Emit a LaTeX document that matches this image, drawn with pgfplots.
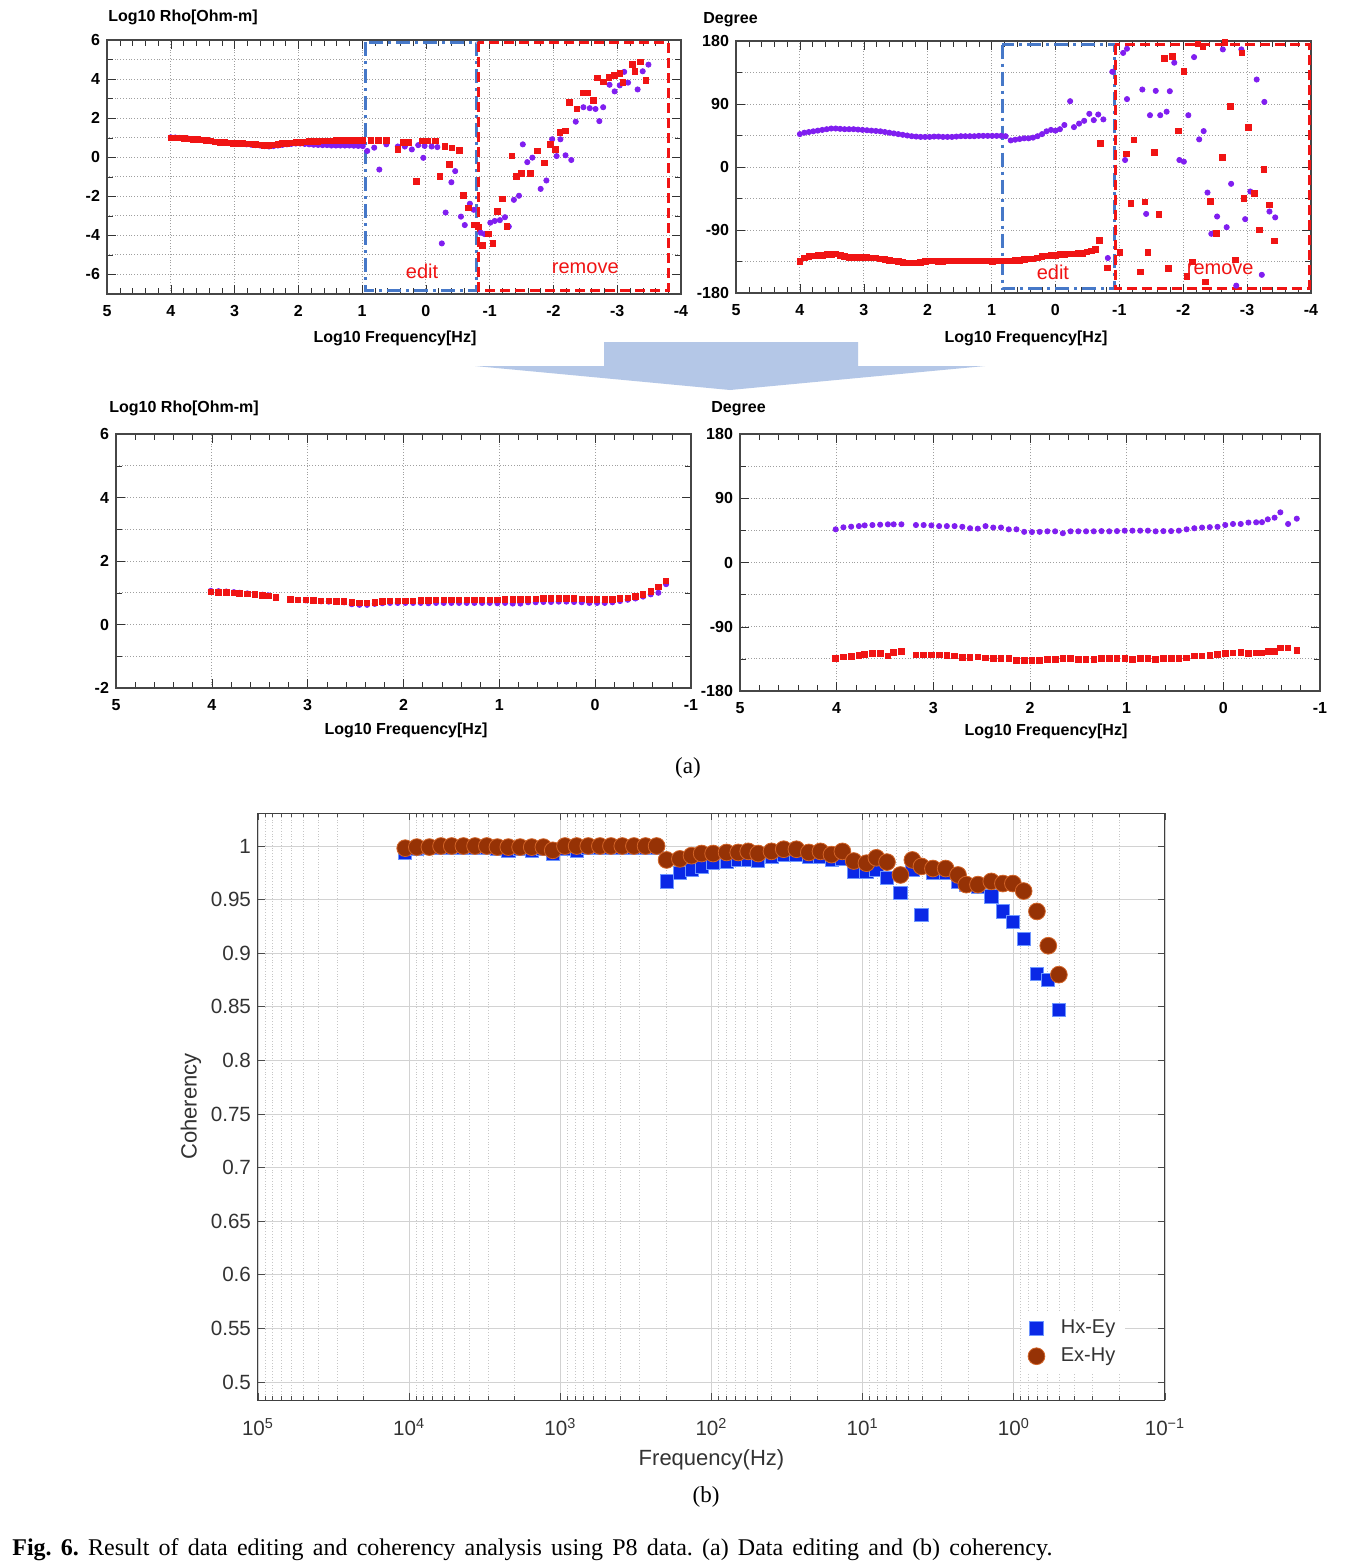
\documentclass[border=0pt]{standalone}
\usepackage{fontspec}
\setmainfont{Liberation Serif}
\setsansfont{Liberation Sans}
\usepackage{pgfplots}
\pgfplotsset{compat=1.18}
\definecolor{rr}{RGB}{240,20,20}
\definecolor{pp}{RGB}{128,30,240}
\definecolor{eb}{RGB}{70,120,200}
\definecolor{bb}{RGB}{10,40,230}
\definecolor{bbe}{RGB}{110,150,255}
\definecolor{br}{RGB}{150,50,5}
\definecolor{bre}{RGB}{210,100,40}
\definecolor{arrowc}{RGB}{180,199,231}
\newcommand{\lab}{\sffamily\bfseries\fontsize{8}{9}\selectfont}
\tikzset{
  boxb/.style={eb, line width=1.5pt, dash pattern=on 7pt off 2.5pt on 1.5pt off 2.5pt},
  boxr/.style={rr, line width=1.5pt, dash pattern=on 5pt off 2.5pt},
}
\pgfplotsset{
  apanel/.style={scale only axis, anchor=south west, x dir=reverse,
    axis line style={gray!55!black, line width=0.7pt},
    /pgf/number format/assume math mode=true,
    tick label style={font=\lab},
    xticklabel style={yshift=-2pt},
    xmajorgrids, ymajorgrids, yminorgrids,
    major grid style={densely dotted, gray!75, line width=0.45pt},
    minor grid style={densely dotted, gray!75, line width=0.45pt},
    tick style={gray!40!black}, minor x tick num=4},
  redm/.style={only marks, mark=square*, mark size=1.4pt, color=rr},
  purm/.style={only marks, mark=*, mark size=1.3pt, color=pp},
}
\begin{document}
\begin{tikzpicture}
\fill[white] (0,0) rectangle (679.5pt,-782.5pt);
\path[use as bounding box] (0,0) rectangle (679.5pt,-782.5pt);

% ---------- A1: top-left resistivity ----------
\begin{axis}[apanel, at={(53.5pt,-147pt)}, width=287pt, height=127pt,
  xmin=-4, xmax=5, ymin=-7, ymax=6,
  xtick={-4,-3,-2,-1,0,1,2,3,4,5},
  ytick={-6,-4,-2,0,2,4,6}, minor ytick={-5,-3,-1,1,3,5}]
\addplot[purm] coordinates {
(4.00,1.02)(3.93,1.01)(3.86,0.99)(3.79,0.97)(3.72,0.95)(3.65,0.93)(3.58,0.90)(3.51,0.88)(3.44,0.85)(3.37,0.82)
(3.30,0.78)(3.23,0.75)(3.16,0.74)(3.09,0.73)(3.02,0.71)(2.95,0.70)(2.88,0.68)(2.81,0.66)(2.74,0.64)(2.67,0.62)
(2.60,0.60)(2.53,0.57)(2.46,0.55)(2.39,0.57)(2.32,0.60)(2.25,0.63)(2.18,0.66)(2.11,0.68)(2.04,0.70)(1.97,0.70)
(1.90,0.68)(1.83,0.66)(1.76,0.64)(1.69,0.63)(1.62,0.62)(1.55,0.62)(1.48,0.60)(1.41,0.60)(1.34,0.60)(1.27,0.60)
(1.20,0.60)(1.13,0.59)(1.06,0.58)(0.99,0.57)
(0.92,0.32)(0.81,0.49)(0.73,-0.63)(0.62,0.66)(0.44,0.55)(0.33,0.55)(0.22,0.40)(0.12,0.62)(0.02,0.58)(-0.09,0.55)(-0.18,0.52)
(0.04,-0.03)(-0.40,-1.28)(-0.46,-0.71)(-0.31,-2.83)(-0.25,-4.41)(-0.55,-3.04)(-0.61,-3.47)(-0.69,-2.38)(-0.75,-2.69)
(-0.86,-3.86)(-0.92,-3.93)(-1.01,-3.35)(-1.08,-3.26)(-1.16,-3.22)(-1.24,-3.07)(-1.30,-3.55)(-1.38,-2.18)(-1.46,-1.97)
(-1.52,0.66)(-1.59,-0.25)(-1.67,-0.02)(-1.80,-1.62)(-1.89,-1.19)(-1.98,0.92)(-2.05,0.06)(-2.11,0.92)(-2.19,0.10)
(-2.28,-0.14)(-2.35,1.82)(-2.47,2.56)(-2.57,2.51)(-2.66,2.47)(-2.72,1.85)(-2.78,2.56)(-2.88,3.71)(-2.96,3.37)
(-3.04,3.68)(-3.11,4.37)(-3.17,3.82)(-3.32,3.47)(-3.40,4.40)(-3.49,4.74)};
\addplot[redm] coordinates {
(4.00,1.00)(3.93,1.00)(3.86,0.98)(3.79,0.96)(3.72,0.94)(3.65,0.92)(3.58,0.90)(3.51,0.88)(3.44,0.86)(3.37,0.84)
(3.30,0.78)(3.23,0.76)(3.16,0.75)(3.09,0.74)(3.02,0.72)(2.95,0.71)(2.88,0.70)(2.81,0.69)(2.74,0.68)(2.67,0.66)
(2.60,0.64)(2.53,0.62)(2.46,0.61)(2.39,0.63)(2.32,0.66)(2.25,0.70)(2.18,0.72)(2.11,0.74)(2.04,0.76)(1.97,0.77)
(1.90,0.78)(1.83,0.80)(1.76,0.82)(1.69,0.82)(1.62,0.83)(1.55,0.84)(1.48,0.84)(1.41,0.85)(1.34,0.85)(1.27,0.86)
(1.20,0.86)(1.13,0.86)(1.06,0.87)(0.99,0.87)
(0.86,0.87)(0.74,0.87)(0.62,0.87)(0.44,0.41)(0.35,0.75)(0.27,0.75)(0.15,-1.23)(0.06,0.84)(-0.03,0.84)(-0.15,0.84)
(-0.30,0.54)(-0.41,0.47)(-0.53,0.34)(-0.37,-0.37)(-0.22,-0.97)(-0.59,-1.95)(-0.67,-2.60)(-0.75,-3.47)
(-0.82,-3.56)(-0.89,-4.50)(-0.98,-3.93)(-1.05,-4.41)(-1.12,-2.76)(-1.20,-2.14)(-1.27,-3.55)(-1.35,0.06)(-1.42,-0.97)
(-1.50,-0.83)(-1.64,-0.83)(-1.75,0.32)(-1.86,-0.28)(-1.95,0.67)(-2.03,0.41)(-2.10,1.27)(-2.19,1.34)(-2.25,2.81)
(-2.37,2.47)(-2.46,3.30)(-2.54,3.30)(-2.63,2.90)(-2.69,4.06)(-2.78,3.85)(-2.87,4.10)(-2.96,4.19)(-3.04,4.28)
(-3.09,3.82)(-3.24,4.74)(-3.36,4.88)(-3.45,3.94)(-3.28,4.40)};
\draw[boxb] (axis cs:0.95,5.88) rectangle (axis cs:-0.80,-6.82);
\draw[boxr] (axis cs:-0.82,5.88) rectangle (axis cs:-3.80,-6.80);
\node[text=rr, font=\sffamily\fontsize{10}{11}\selectfont] at (axis cs:0.06,-5.85) {edit};
\node[text=rr, font=\sffamily\fontsize{10}{11}\selectfont] at (axis cs:-2.5,-5.7) {remove};
\end{axis}

% ---------- A2: top-right phase ----------
\begin{axis}[apanel, at={(368pt,-146.5pt)}, width=287.5pt, height=126pt,
  xmin=-4, xmax=5, ymin=-180, ymax=180,
  xtick={-4,-3,-2,-1,0,1,2,3,4,5},
  ytick={-180,-90,0,90,180}, minor ytick={-135,-45,45,135}]
\addplot[purm] coordinates {
(4.00,47)(3.93,49)(3.86,50)(3.79,51)(3.72,52)(3.65,53)(3.58,54)(3.51,55)(3.44,55)(3.37,54.5)
(3.30,54)(3.23,54)(3.16,54)(3.09,53.5)(3.02,53)(2.95,52.5)(2.88,52)(2.81,51.5)(2.74,51)(2.67,50)
(2.60,49)(2.53,48)(2.46,47)(2.39,46)(2.32,45)(2.25,44)(2.18,43.5)(2.11,43)(2.04,43)(1.97,43)
(1.90,43.5)(1.83,43.5)(1.76,43)(1.69,43)(1.62,43)(1.55,43.5)(1.48,44)(1.41,44)(1.34,44)(1.27,44)
(1.20,44.5)(1.13,44.5)(1.06,44.5)(0.99,44.5)(0.92,44.5)(0.85,44.5)(0.78,44)
(0.70,38)(0.63,39)(0.56,40)(0.49,41)(0.42,41)(0.35,42)(0.28,44)(0.21,47)(0.14,51)(0.07,53)(0.00,52)
(-0.07,54)(-0.14,60)(-0.23,94)(-0.29,57)(-0.37,62)(-0.45,66)(-0.53,76)(-0.60,67)(-0.67,75)(-0.75,68)
(-0.82,-130)(-0.89,136)
(-1.06,163)(-1.12,169)(-1.09,10)(-1.12,97)(-1.36,110.7)(-1.42,-67)(-1.48,74)(-1.57,108.8)(-1.64,74)
(-1.74,79)(-1.79,108.3)(-1.86,149)(-1.94,10)(-2.01,7.6)(-2.08,74)(-2.17,157)(-2.25,39.5)(-2.32,51.3)
(-2.38,-36.5)(-2.44,-95.4)(-2.53,-70.7)(-2.62,168)(-2.68,-86)(-2.75,-24)(-2.83,-169.5)(-2.91,168)
(-2.97,-74.5)(-3.05,-35)(-3.15,125)(-3.23,-154)(-3.27,93)(-3.35,-63.6)(-3.44,-72)};
\addplot[redm] coordinates {
(4.00,-135)(3.93,-130)(3.86,-128)(3.79,-127)(3.72,-126)(3.65,-126)(3.58,-125)(3.51,-125)(3.44,-124)(3.37,-126)
(3.30,-128)(3.23,-129)(3.16,-129)(3.09,-129)(3.02,-129)(2.95,-129)(2.88,-130)(2.81,-130)(2.74,-131)(2.67,-132)
(2.60,-133)(2.53,-134)(2.46,-135)(2.39,-136)(2.32,-137)(2.25,-137)(2.18,-137)(2.11,-136)(2.04,-135)(1.97,-134)
(1.90,-134)(1.83,-135)(1.76,-135)(1.69,-134)(1.62,-134)(1.55,-134)(1.48,-134)(1.41,-134)(1.34,-134)(1.27,-134)
(1.20,-134)(1.13,-134)(1.06,-134)(0.99,-135)(0.92,-134)(0.85,-134)(0.78,-134)(0.70,-134)(0.63,-133)(0.56,-133)
(0.49,-132)(0.42,-131)(0.35,-131)(0.28,-130)(0.21,-128)(0.14,-127)(0.07,-126)(0.00,-126)(-0.07,-125)(-0.14,-125)
(-0.21,-124)(-0.28,-124)(-0.35,-123)(-0.42,-123)(-0.49,-121)(-0.56,-120)(-0.63,-118)(-0.69,-105)(-0.81,-144)(-0.70,34)
(-1.01,-122)(-1.11,18.5)(-1.23,38.5)(-1.18,-51.7)(-1.40,-50)(-1.45,-122)(-1.33,-150)(-1.55,21)(-1.62,-67.4)
(-1.71,154.8)(-1.83,158)(-1.77,-145)(-1.92,51.8)(-2.01,137)(-2.06,-156)(-2.14,-135.8)(-2.23,176)(-2.31,171.5)
(-2.35,-164)(-2.43,-49)(-2.52,-95)(-2.61,13.8)(-2.65,178)(-2.74,87)(-2.82,-132.5)(-2.92,163)(-2.95,-44.6)
(-3.02,56.5)(-3.11,-37.5)(-3.19,-89.7)(-3.26,-3.3)(-3.35,-54)(-3.43,-105.4)};
\draw[boxb] (axis cs:0.83,175) rectangle (axis cs:-0.93,-174);
\draw[boxr] (axis cs:-0.94,175) rectangle (axis cs:-3.97,-173);
\node[text=rr, font=\sffamily\fontsize{10}{11}\selectfont] at (axis cs:0.04,-150) {edit};
\node[text=rr, font=\sffamily\fontsize{10}{11}\selectfont] at (axis cs:-2.58,-146) {remove};
\end{axis}

% ---------- A3: bottom-left resistivity ----------
\begin{axis}[apanel, at={(58pt,-344pt)}, width=287.5pt, height=127pt,
  xmin=-1, xmax=5, ymin=-2, ymax=6,
  xtick={-1,0,1,2,3,4,5},
  ytick={-2,0,2,4,6}, minor ytick={-1,1,3,5}]
\addplot[purm] coordinates {
(4.01,1.06)(3.93,1.05)(3.85,1.04)(3.77,1.02)(3.71,1.00)(3.63,0.98)(3.55,0.96)(3.47,0.94)(3.41,0.92)(3.33,0.86)
(3.18,0.78)(3.10,0.77)(3.02,0.76)(2.94,0.75)(2.86,0.73)(2.78,0.72)(2.70,0.71)(2.62,0.70)(2.54,0.64)(2.46,0.62)
(2.38,0.62)(2.30,0.65)(2.22,0.67)(2.14,0.68)(2.06,0.68)(1.98,0.68)(1.90,0.68)(1.82,0.68)(1.74,0.67)(1.66,0.68)
(1.58,0.68)(1.50,0.68)(1.42,0.68)(1.34,0.68)(1.26,0.68)(1.18,0.68)(1.10,0.68)(1.02,0.67)(0.94,0.68)(0.86,0.66)
(0.78,0.66)(0.70,0.70)(0.62,0.70)(0.54,0.71)(0.46,0.71)(0.38,0.72)(0.30,0.72)(0.22,0.71)(0.14,0.70)(0.06,0.68)
(-0.02,0.68)(-0.10,0.68)(-0.18,0.70)(-0.26,0.74)(-0.34,0.78)(-0.42,0.82)(-0.50,0.88)(-0.58,0.95)(-0.66,1.00)(-0.74,1.27)};
\addplot[redm] coordinates {
(4.01,1.03)(3.93,1.02)(3.85,1.01)(3.77,1.00)(3.71,0.98)(3.63,0.96)(3.55,0.94)(3.47,0.92)(3.41,0.90)(3.33,0.85)
(3.18,0.79)(3.10,0.78)(3.02,0.77)(2.94,0.76)(2.86,0.75)(2.78,0.74)(2.70,0.73)(2.62,0.72)(2.54,0.70)(2.46,0.68)
(2.38,0.68)(2.30,0.70)(2.22,0.72)(2.14,0.74)(2.06,0.75)(1.98,0.75)(1.90,0.75)(1.82,0.76)(1.74,0.76)(1.66,0.77)
(1.58,0.77)(1.50,0.77)(1.42,0.78)(1.34,0.78)(1.26,0.78)(1.18,0.78)(1.10,0.78)(1.02,0.78)(0.94,0.79)(0.86,0.79)
(0.78,0.79)(0.70,0.80)(0.62,0.81)(0.54,0.82)(0.46,0.82)(0.38,0.83)(0.30,0.83)(0.22,0.82)(0.14,0.81)(0.06,0.80)
(-0.02,0.80)(-0.10,0.80)(-0.18,0.80)(-0.26,0.82)(-0.34,0.84)(-0.42,0.88)(-0.50,0.95)(-0.58,1.05)(-0.66,1.18)(-0.74,1.38)};
\end{axis}

% ---------- A4: bottom-right phase ----------
\begin{axis}[apanel, at={(370pt,-345.5pt)}, width=290pt, height=128.5pt,
  xmin=-1, xmax=5, ymin=-180, ymax=180,
  xtick={-1,0,1,2,3,4,5},
  ytick={-180,-90,0,90,180}, minor ytick={-135,-45,45,135}]
\addplot[purm] coordinates {
(4.01,46.5)(3.93,49.3)(3.85,50.2)(3.77,51)(3.71,52)(3.63,52.5)(3.55,53)(3.47,53.5)(3.41,53.5)(3.33,53.5)
(3.18,52.5)(3.10,52.5)(3.02,52)(2.94,51)(2.86,51)(2.78,51)(2.70,50)(2.62,48)(2.54,47.5)(2.46,51)
(2.38,49)(2.30,49)(2.22,46.5)(2.14,46.5)(2.06,43)(1.98,42.7)(1.90,43)(1.82,43.7)(1.74,43.7)(1.66,41)
(1.58,43.7)(1.50,43.7)(1.42,43.7)(1.34,43.7)(1.26,44)(1.18,43.7)(1.10,44)(1.02,44.6)(0.94,44.6)(0.86,44.6)
(0.78,44.6)(0.70,43.7)(0.62,44)(0.54,44)(0.46,44.6)(0.38,46.5)(0.30,48)(0.22,49)(0.14,49.5)(0.06,50)
(-0.02,52.5)(-0.10,54)(-0.18,54)(-0.26,56)(-0.34,56.3)(-0.40,56.5)(-0.46,60.5)(-0.53,62.8)(-0.59,70.3)(-0.67,54)(-0.76,61.4)};
\addplot[redm] coordinates {
(4.01,-134.7)(3.93,-132.3)(3.85,-131.4)(3.77,-130)(3.71,-128.6)(3.63,-127.2)(3.55,-127.2)(3.47,-131)(3.41,-125.8)(3.33,-124.4)
(3.18,-129.5)(3.10,-129.5)(3.02,-129.5)(2.94,-129.5)(2.86,-130.5)(2.78,-131)(2.70,-132.8)(2.62,-133)(2.54,-132)(2.46,-133.5)
(2.38,-134.7)(2.30,-134.7)(2.22,-134.7)(2.14,-137)(2.06,-137)(1.98,-137)(1.90,-137)(1.82,-135.6)(1.74,-135.6)(1.66,-134)
(1.58,-134.7)(1.50,-135.6)(1.42,-135.6)(1.34,-135.6)(1.26,-134.7)(1.18,-134.7)(1.10,-134.7)(1.02,-134.7)(0.94,-135.6)(0.86,-134.7)
(0.78,-134.7)(0.70,-135.6)(0.62,-134.7)(0.54,-134.7)(0.46,-134.7)(0.38,-133.5)(0.30,-131)(0.22,-131)(0.14,-130)(0.06,-128.6)
(-0.02,-127.2)(-0.10,-126.5)(-0.18,-125.8)(-0.26,-127)(-0.34,-126.5)(-0.40,-126.5)(-0.46,-124.4)(-0.53,-124.4)(-0.59,-119.7)(-0.67,-119.7)(-0.76,-123)};
\end{axis}

% ---------- panel (a) texts ----------
\node[anchor=west, inner sep=0pt, font=\lab] at (54pt,-8.5pt) {Log10 Rho[Ohm-m]};
\node[anchor=west, inner sep=0pt, font=\lab] at (351.5pt,-10pt) {Degree};
\node[font=\lab] at (197.5pt,-169pt) {Log10 Frequency[Hz]};
\node[font=\lab] at (513pt,-169pt) {Log10 Frequency[Hz]};
\node[anchor=west, inner sep=0pt, font=\lab] at (54.5pt,-204pt) {Log10 Rho[Ohm-m]};
\node[anchor=west, inner sep=0pt, font=\lab] at (355.5pt,-204.5pt) {Degree};
\node[font=\lab] at (203pt,-365pt) {Log10 Frequency[Hz]};
\node[font=\lab] at (523pt,-365.5pt) {Log10 Frequency[Hz]};
\fill[arrowc] (302pt,-171pt) -- (429pt,-171pt) -- (429pt,-183pt) -- (492.5pt,-183pt) -- (365pt,-195pt) -- (237.5pt,-183pt) -- (302pt,-183pt) -- cycle;
\node[font=\fontsize{11.5}{13}\selectfont] at (344pt,-384pt) {(a)};

% ---------- panel (b) ----------
\begin{axis}[scale only axis, anchor=south west, at={(129pt,-700pt)}, width=453.5pt, height=293.5pt,
  xmin=-1, xmax=5, x dir=reverse, ymin=0.4832, ymax=1.0308,
  axis line style={gray!50!black, line width=0.5pt},
  xtick={-1,0,1,2,3,4,5},
  xticklabels={10\textsuperscript{−1},10\textsuperscript{0},10\textsuperscript{1},10\textsuperscript{2},10\textsuperscript{3},10\textsuperscript{4},10\textsuperscript{5}},
  minor xtick={-0.699,-0.523,-0.398,-0.301,-0.222,-0.155,-0.097,-0.046,
    0.301,0.477,0.602,0.699,0.778,0.845,0.903,0.954,
    1.301,1.477,1.602,1.699,1.778,1.845,1.903,1.954,
    2.301,2.477,2.602,2.699,2.778,2.845,2.903,2.954,
    3.301,3.477,3.602,3.699,3.778,3.845,3.903,3.954,
    4.301,4.477,4.602,4.699,4.778,4.845,4.903,4.954},
  ytick={0.5,0.55,0.6,0.65,0.7,0.75,0.8,0.85,0.9,0.95,1},
  yticklabels={0.5,0.55,0.6,0.65,0.7,0.75,0.8,0.85,0.9,0.95,1},
  tick label style={font=\sffamily\fontsize{10.3}{12}\selectfont, text=black!80},
  xticklabel style={yshift=-5.5pt},
  xmajorgrids, xminorgrids, ymajorgrids,
  major grid style={gray!35, line width=0.4pt},
  minor grid style={densely dotted, gray!45, line width=0.4pt},
  tick style={black!70, line width=0.4pt}, minor tick length=2pt, major tick length=3.5pt,
  xlabel={Frequency(Hz)}, ylabel={Coherency},
  label style={font=\sffamily\fontsize{11}{13}\selectfont, text=black!80},
  ylabel style={yshift=-2pt},
  legend style={at={(0.842,0.046)}, anchor=south west, draw=none, fill=white,
    font=\sffamily\fontsize{10}{12}\selectfont, text=black!80, row sep=1.5pt},
  legend cell align=left]
\addplot[only marks, mark=square*, mark size=3.3pt, mark options={fill=bb, draw=bbe, line width=0.4pt}] coordinates {
(4.026,0.994)(3.949,0.997)(3.866,0.998)(3.789,0.998)(3.718,0.998)(3.641,0.998)(3.564,0.998)(3.486,0.998)(3.416,0.997)(3.344,0.996)
(3.266,0.997)(3.189,0.996)(3.112,0.997)(3.050,0.993)(2.969,0.997)(2.892,0.996)(2.815,0.998)(2.738,0.998)(2.665,0.998)(2.590,0.998)
(2.513,0.998)(2.436,0.998)(2.363,0.998)(2.297,0.967)(2.209,0.975)(2.132,0.978)(2.065,0.981)(1.989,0.984)(1.900,0.985)(1.823,0.987)
(1.757,0.987)(1.691,0.986)(1.603,0.990)(1.522,0.992)(1.438,0.992)(1.356,0.990)(1.279,0.990)(1.206,0.987)(1.134,0.988)(1.059,0.976)
(0.975,0.976)(0.909,0.978)(0.839,0.970)(0.750,0.956)(0.671,0.978)(0.611,0.936)(0.535,0.975)(0.451,0.975)(0.369,0.967)(0.314,0.964)
(0.237,0.962)(0.149,0.953)(0.072,0.939)(0.006,0.929)(-0.065,0.913)(-0.153,0.881)(-0.228,0.875)(-0.298,0.847)};
\addlegendentry{\hspace{6pt}Hx-Ey}
\addplot[only marks, mark=*, mark size=4.2pt, mark options={fill=br, draw=bre, line width=0.4pt}] coordinates {
(4.026,0.998)(3.949,0.999)(3.866,0.999)(3.789,1.0)(3.718,1.0)(3.641,1.0)(3.564,1.0)(3.486,1.0)(3.416,0.999)(3.344,0.999)
(3.266,0.999)(3.189,0.999)(3.112,0.999)(3.050,0.996)(2.969,1.0)(2.892,1.0)(2.815,1.0)(2.738,1.0)(2.665,1.0)(2.590,1.0)
(2.513,1.0)(2.436,1.0)(2.363,1.0)(2.297,0.987)(2.209,0.988)(2.132,0.991)(2.065,0.993)(1.989,0.993)(1.900,0.994)(1.823,0.994)
(1.757,0.995)(1.691,0.993)(1.603,0.995)(1.522,0.997)(1.438,0.997)(1.356,0.994)(1.279,0.995)(1.206,0.992)(1.134,0.995)(1.059,0.986)
(0.975,0.984)(0.909,0.989)(0.839,0.985)(0.750,0.973)(0.671,0.987)(0.611,0.981)(0.535,0.979)(0.451,0.979)(0.369,0.973)(0.314,0.964)
(0.237,0.964)(0.149,0.967)(0.072,0.965)(0.006,0.965)(-0.065,0.958)(-0.153,0.939)(-0.228,0.907)(-0.298,0.880)};
\addlegendentry{\hspace{6pt}Ex-Hy}
\end{axis}
\node[font=\fontsize{11.5}{13}\selectfont] at (353pt,-748.5pt) {(b)};
\node[anchor=base west, inner sep=0pt] at (6pt,-777.5pt) {\frenchspacing\makebox[520pt][s]{\fontsize{12}{14}\selectfont\textbf{Fig.~6.} Result of data editing and coherency analysis using P8 data. (a) Data editing and (b) coherency.}};
\end{tikzpicture}
\end{document}
